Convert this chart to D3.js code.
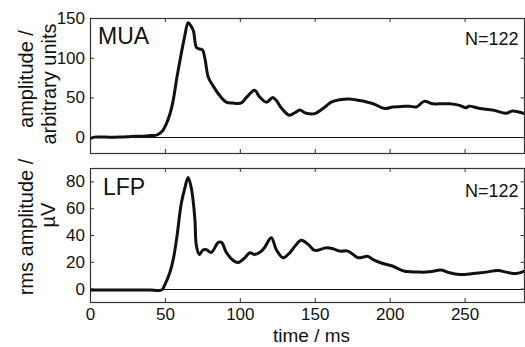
<!DOCTYPE html>
<html>
<head>
<meta charset="utf-8">
<script src="https://cdn.jsdelivr.net/npm/d3@7"></script>
<style>
  html, body { margin: 0; padding: 0; background: #fff; }
  svg { display: block; font-family: "Liberation Sans", Arial, sans-serif; }
</style>
</head>
<body>
<svg id="chart" width="525" height="347"></svg>
<script>
// ---- data ----
const muaTime = [0, 3, 10, 20, 30, 35, 40, 43, 45, 48, 51, 53.5, 55.5, 58, 60, 63, 65.5, 67, 69, 71, 73, 75, 76.7, 79, 82, 86.7, 91, 95, 101, 104.4, 110, 113, 117.8, 122, 124.4, 128, 133, 137, 140, 144.4, 150, 155.5, 161, 166.7, 173, 180, 189, 196.7, 202, 208, 213, 217.8, 223, 228.9, 235, 240, 246.7, 251, 253, 260, 269, 277.8, 282, 290];
const muaVals = [-2, 0, 0, 0, 1, 1, 2, 2, 3, 7, 17, 30, 46, 75, 96, 125, 144, 141, 134, 113, 111, 110, 99, 75, 65, 52, 44, 43, 43, 50, 59, 51, 44, 50, 46, 36, 27.5, 31, 34, 30, 29.6, 36, 44, 47, 48, 46, 42, 36, 38, 38.5, 39, 38, 45, 42, 42, 42, 40, 37, 39, 36, 34, 30, 33, 29.6];

const lfpTime = [0, 10, 20, 30, 40, 47.8, 50, 53.3, 55.6, 57.8, 61, 63.3, 65.5, 67.8, 70, 71, 73, 75.6, 77.8, 81, 85.6, 87.8, 91, 95.6, 98.9, 103.3, 106.7, 110, 114.4, 116.7, 121, 124.4, 128.9, 133.3, 137, 141, 145.6, 150, 157.8, 162.2, 166.7, 172.2, 178.9, 183.3, 185.6, 190, 195.6, 202.2, 206.7, 210, 220, 226.7, 234.4, 240, 246.7, 255.6, 264.4, 272.2, 277.8, 284.4, 290];
const lfpVals = [-1, -1, -1, -1, -1, -1, 3, 12, 22, 37, 64, 75, 83, 74, 52, 32, 25.5, 29, 29, 27, 34.5, 34.5, 27, 21, 19.5, 23, 26.7, 25.5, 28, 31, 38, 29, 23, 26.7, 32, 36, 33, 28.5, 30.5, 29.7, 28, 28, 23, 23.8, 24, 21, 18.7, 16.7, 14.3, 13, 12.3, 12.5, 13.8, 11.8, 10.5, 11.2, 12.3, 13.5, 12.3, 11.2, 13];

const xTicks = [0, 50, 100, 150, 200, 250];
const muaTicks = [0, 50, 100, 150];
const lfpTicks = [0, 20, 40, 60, 80];

// ---- layout ----
const svg = d3.select("#chart");
const X0 = 90, X1 = 524.5;
const x = d3.scaleLinear().domain([0, 290]).range([X0, X1]);

const panels = [
  { time: muaTime, vals: muaVals, ticks: muaTicks, domain: [-20, 150], top: 18, bottom: 153,
    name: "MUA", nameX: 98, nameY: 44, nY: 45, showX: false, id: "mua" },
  { time: lfpTime, vals: lfpVals, ticks: lfpTicks, domain: [-10, 90], top: 168, bottom: 302,
    name: "LFP", nameX: 103, nameY: 195, nY: 196.5, showX: true, id: "lfp" }
];

const defs = svg.append("defs");

panels.forEach(p => {
  const y = d3.scaleLinear().domain(p.domain).range([p.bottom, p.top]);
  const g = svg.append("g");

  defs.append("clipPath").attr("id", "clip-" + p.id)
    .append("rect").attr("x", X0).attr("y", p.top).attr("width", X1 - X0).attr("height", p.bottom - p.top);

  // zero line
  g.append("line")
    .attr("x1", X0).attr("x2", X1)
    .attr("y1", Math.round(y(0)) + 0.5).attr("y2", Math.round(y(0)) + 0.5)
    .attr("stroke", "#111").attr("stroke-width", 1);

  // axes (inward ticks)
  const bottomAxis = d3.axisBottom(x).tickValues(xTicks).tickSize(-4).tickPadding(6)
    .tickFormat(p.showX ? d3.format("d") : () => "");
  const topAxis = d3.axisTop(x).tickValues(xTicks).tickSize(-4).tickFormat(() => "");
  const leftAxis = d3.axisLeft(y).tickValues(p.ticks).tickSize(-4).tickPadding(5).tickFormat(d3.format("d"));
  const rightAxis = d3.axisRight(y).tickValues(p.ticks).tickSize(-4).tickFormat(() => "");

  const styleAxis = sel => {
    sel.select(".domain").remove();
    sel.selectAll(".tick line").attr("stroke", "#333");
    sel.selectAll(".tick text").attr("fill", "#111").style("font-size", "17px")
      .style("font-family", '"Liberation Sans", Arial, sans-serif');
  };
  g.append("g").attr("transform", `translate(0,${p.bottom})`).call(bottomAxis).call(styleAxis);
  g.append("g").attr("transform", `translate(0,${p.top})`).call(topAxis).call(styleAxis);
  g.append("g").attr("transform", `translate(${X0},0)`).call(leftAxis).call(styleAxis);
  g.append("g").attr("transform", `translate(${X1},0)`).call(rightAxis).call(styleAxis);

  // box
  g.append("rect")
    .attr("x", X0 + 0.5).attr("y", p.top + 0.5)
    .attr("width", X1 - X0 - 0.5).attr("height", p.bottom - p.top)
    .attr("fill", "none").attr("stroke", "#333").attr("stroke-width", 1.2);

  // data line
  const data = p.time.map((t, i) => [t, p.vals[i]]);
  const line = d3.line().x(d => x(d[0])).y(d => y(d[1])).curve(d3.curveCatmullRom.alpha(0.5));
  g.append("path").datum(data)
    .attr("clip-path", `url(#clip-${p.id})`)
    .attr("d", line).attr("fill", "none")
    .attr("stroke", "#111").attr("stroke-width", 3).attr("stroke-linejoin", "round");

  // labels inside the panel
  g.append("text").attr("x", p.nameX).attr("y", p.nameY)
    .style("font-size", "23px").attr("fill", "#111").text(p.name);
  g.append("text").attr("x", 465).attr("y", p.nY)
    .style("font-size", "18px").attr("fill", "#111").text("N=122");
});

// axis titles
const yLabels = [
  { text: "amplitude /", x: 33, y: 79 },
  { text: "arbitrary units", x: 56, y: 84 },
  { text: "rms amplitude /", x: 33, y: 227 },
  { text: "µV", x: 55, y: 215 }
];
yLabels.forEach(l => {
  svg.append("text")
    .attr("transform", `translate(${l.x},${l.y}) rotate(-90)`)
    .attr("text-anchor", "middle")
    .style("font-size", "20px").attr("fill", "#111")
    .text(l.text);
});

svg.append("text").attr("x", 311.5).attr("y", 342)
  .attr("text-anchor", "middle").style("font-size", "19px").attr("fill", "#111")
  .text("time / ms");
</script>
</body>
</html>
